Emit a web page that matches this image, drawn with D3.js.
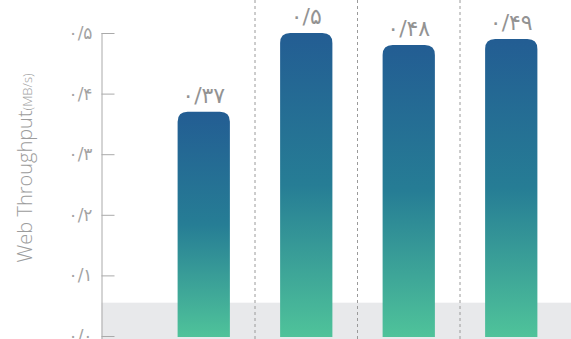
<!DOCTYPE html>
<html><head><meta charset="utf-8">
<script src="https://cdn.jsdelivr.net/npm/d3@7"></script>
<style>
html,body{margin:0;padding:0;background:#fff;}
svg{display:block;}
</style></head>
<body>
<svg id="chart" width="571" height="339"></svg>
<script>
const categories = ["A", "B", "C", "D"];
const values = [0.37, 0.5, 0.48, 0.49];
const valueLabels = ["۰/۳۷", "۰/۵", "۰/۴۸", "۰/۴۹"];
const tickValues = [0, 0.1, 0.2, 0.3, 0.4, 0.5];
const tickLabels = ["۰/۰", "۰/۱", "۰/۲", "۰/۳", "۰/۴", "۰/۵"];
const baseBand = 0.055;

const svg = d3.select("#chart");
const W = 571, H = 339;
const axisX = 101.5;
const y = d3.scaleLinear().domain([0, 0.5]).range([336, 33]);
const x = d3.scaleBand().domain(categories).range([152.5, 562.5]).paddingInner(0.49).paddingOuter(0.245);

const defs = svg.append("defs");
const g = defs.append("linearGradient").attr("id", "barGrad").attr("x1", 0).attr("y1", 0).attr("x2", 0).attr("y2", 1);
g.append("stop").attr("offset", "0%").attr("stop-color", "#235d93");
g.append("stop").attr("offset", "50%").attr("stop-color", "#267d95");
g.append("stop").attr("offset", "100%").attr("stop-color", "#4fc39a");

// gray band
svg.append("rect").attr("x", axisX).attr("y", y(baseBand)).attr("width", W - axisX).attr("height", H - y(baseBand)).attr("fill", "#e8e9eb");

// dashed separators between bars
const step = x.step();
categories.slice(1).forEach(c => {
  const xx = x(c) - (step - x.bandwidth()) / 2;
  svg.append("line").attr("x1", xx).attr("x2", xx).attr("y1", 0).attr("y2", H)
    .attr("stroke", "#9a9a9a").attr("stroke-width", 1).attr("stroke-dasharray", "3,3");
});

// y axis
const yAxis = d3.axisRight(y).tickValues(tickValues).tickSize(13).tickFormat((d, i) => tickLabels[i]);
const ag = svg.append("g").attr("transform", `translate(${axisX},0)`).call(yAxis);
ag.select(".domain").attr("stroke", "#aaa").attr("d", `M0.5,${y(0.5)}V${H}`);
ag.selectAll(".tick line").attr("stroke", "#aaa");
ag.selectAll(".tick text").attr("x", -9).attr("text-anchor", "end").attr("fill", "#a3a3a3")
  .style("font-family", "'DejaVu Sans', sans-serif").style("font-size", "17px");

// bars with rounded top
const r = 10;
const bw = x.bandwidth();
svg.selectAll("path.bar").data(values).join("path").attr("class", "bar")
  .attr("fill", "url(#barGrad)")
  .attr("d", (d, i) => {
    const x0 = x(categories[i]), top = y(d), bot = y(0) + 1;
    return `M${x0},${bot}V${top + r}Q${x0},${top} ${x0 + r},${top}H${x0 + bw - r}Q${x0 + bw},${top} ${x0 + bw},${top + r}V${bot}Z`;
  });

// value labels
svg.selectAll("text.val").data(values).join("text").attr("class", "val")
  .attr("x", (d, i) => x(categories[i]) + bw / 2)
  .attr("y", d => y(d) - 9)
  .attr("text-anchor", "middle").attr("fill", "#939393")
  .style("font-family", "'DejaVu Sans', sans-serif").style("font-size", "22px")
  .text((d, i) => valueLabels[i]);

// y title
const t = svg.append("text").attr("transform", `translate(32,${168}) rotate(-90)`)
  .attr("text-anchor", "middle").attr("fill", "#9c9c9c")
  .style("font-family", "'Open Sans', sans-serif").style("font-weight", 300);
t.append("tspan").style("font-size", "20px").text("Web Throughput");
t.append("tspan").style("font-size", "13px").text("(MB/s)");
</script>
</body></html>
